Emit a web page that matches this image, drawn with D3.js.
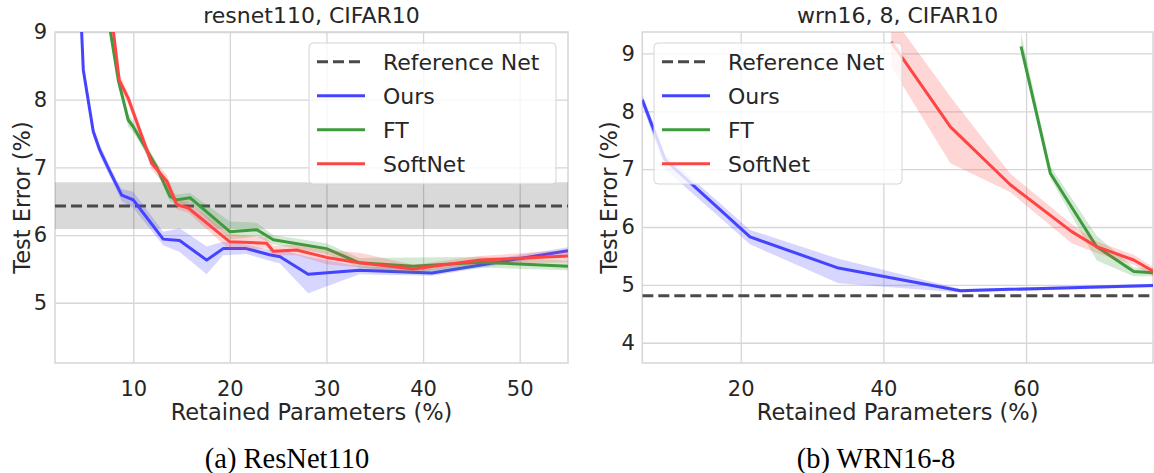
<!DOCTYPE html>
<html>
<head>
<meta charset="utf-8">
<script src="https://cdn.jsdelivr.net/npm/d3@7"></script>
<style>
  body { margin: 0; background: #fff; }
  svg { display: block; }
</style>
</head>
<body>
<svg id="fig" width="1154" height="473"></svg>
<script>
// ---- resnet110, CIFAR10 ----
const resXTicks = [10, 20, 30, 40, 50];
const resYTicks = [5, 6, 7, 8, 9];
const resRef = 6.43, resRefLo = 6.09, resRefHi = 6.78;

const resOursX = [4.55, 4.83, 5.86, 6.55, 7.38, 8.1, 8.8, 10.0, 13.1, 14.8, 17.6, 19.3, 21.7, 24.1, 25.2, 28.1, 33.4, 40.9, 55];
const resOursY = [9.35, 8.44, 7.53, 7.25, 7.00, 6.79, 6.59, 6.52, 5.94, 5.92, 5.63, 5.80, 5.80, 5.71, 5.68, 5.42, 5.48, 5.44, 5.77];
const resOursLo = [9.2, 8.35, 7.45, 7.17, 6.92, 6.72, 6.50, 6.40, 5.85, 5.75, 5.42, 5.70, 5.72, 5.62, 5.58, 5.14, 5.42, 5.40, 5.72];
const resOursHi = [9.5, 8.55, 7.60, 7.33, 7.08, 6.86, 6.68, 6.64, 6.05, 6.10, 5.83, 5.90, 5.86, 5.78, 5.78, 5.68, 5.54, 5.50, 5.82];

const resFtX = [7.3, 8.45, 9.48, 10.0, 12.4, 13.8, 14.5, 15.9, 20.0, 22.8, 24.5, 30.0, 33.4, 39.0, 45.9, 55];
const resFtY = [9.3, 8.29, 7.70, 7.60, 7.01, 6.57, 6.52, 6.55, 6.05, 6.08, 5.93, 5.80, 5.59, 5.54, 5.60, 5.54];
const resFtLo = [9.2, 8.20, 7.60, 7.52, 6.94, 6.50, 6.45, 6.47, 5.93, 5.98, 5.86, 5.72, 5.52, 5.42, 5.52, 5.48];
const resFtHi = [9.4, 8.38, 7.80, 7.68, 7.08, 6.64, 6.60, 6.62, 6.20, 6.18, 6.00, 5.88, 5.66, 5.67, 5.68, 5.62];

const resSoftX = [7.7, 8.55, 9.48, 11.9, 13.5, 14.5, 15.7, 20.0, 23.8, 24.5, 26.9, 30.0, 33.4, 39.0, 45.9, 55];
const resSoftY = [9.3, 8.29, 8.02, 7.06, 6.79, 6.45, 6.40, 5.90, 5.88, 5.76, 5.78, 5.67, 5.59, 5.50, 5.63, 5.69];
const resSoftLo = [9.2, 8.20, 7.93, 6.97, 6.70, 6.38, 6.33, 5.78, 5.80, 5.70, 5.70, 5.57, 5.52, 5.45, 5.57, 5.60];
const resSoftHi = [9.4, 8.38, 8.10, 7.15, 6.88, 6.53, 6.48, 6.02, 5.96, 5.84, 5.86, 5.78, 5.74, 5.56, 5.69, 5.78];

// ---- wrn16, 8, CIFAR10 ----
const wrnXTicks = [20, 40, 60];
const wrnYTicks = [4, 5, 6, 7, 8, 9];
const wrnRef = 4.81;

const wrnOursX = [6.2, 9.4, 21.3, 33.7, 50.8, 77.9];
const wrnOursY = [8.2, 7.16, 5.83, 5.29, 4.90, 4.99];
const wrnOursLo = [8.1, 7.00, 5.70, 5.03, 4.87, 4.96];
const wrnOursHi = [8.3, 7.25, 5.95, 5.45, 4.93, 5.02];

const wrnFtX = [59.3, 63.4, 69.9, 75.1, 77.9];
const wrnFtY = [9.12, 6.93, 5.66, 5.23, 5.21];
const wrnFtLo = [9.00, 6.85, 5.42, 5.15, 5.15];
const wrnFtHi = [9.35, 7.05, 5.85, 5.30, 5.29];

const wrnSoftX = [41.1, 49.4, 57.8, 66.4, 69.9, 75.1, 77.9];
const wrnSoftY = [9.2, 7.73, 6.73, 5.92, 5.66, 5.43, 5.23];
const wrnSoftLo = [8.77, 7.10, 6.60, 5.72, 5.55, 5.35, 5.15];
const wrnSoftHi = [9.66, 8.25, 6.92, 6.05, 5.75, 5.52, 5.30];

const legendLabels = ["Reference Net", "Ours", "FT", "SoftNet"];
const seriesColors = ["#4444ff", "#3d9a3d", "#ff4444"];

const FONT = "'DejaVu Sans', sans-serif";
const INK = "#262626";
const GRID = "#d6d6d6";

const zip = (xs, ys) => xs.map((x, i) => [x, ys[i]]);
const zip3 = (xs, lo, hi) => xs.map((x, i) => [x, lo[i], hi[i]]);

const svg = d3.select("#fig");

function drawPanel(p, id) {
  const x = d3.scaleLinear().domain(p.xDomain).range([p.left, p.right]);
  const y = d3.scaleLinear().domain(p.yDomain).range([p.bottom, p.top]);
  const w = p.right - p.left, h = p.bottom - p.top;

  const g = svg.append("g");
  g.append("clipPath").attr("id", "clip" + id)
    .append("rect").attr("x", p.left).attr("y", p.top).attr("width", w).attr("height", h);

  // grid via axes
  const xAxis = g.append("g").attr("transform", `translate(0,${p.bottom})`)
    .call(d3.axisBottom(x).tickValues(p.xTicks).tickSize(-h).tickPadding(18).tickFormat(d3.format("d")));
  const yAxis = g.append("g").attr("transform", `translate(${p.left},0)`)
    .call(d3.axisLeft(y).tickValues(p.yTicks).tickSize(-w).tickPadding(p.yPad).tickFormat(d3.format("d")));
  [xAxis, yAxis].forEach(a => {
    a.select(".domain").remove();
    a.selectAll(".tick line").attr("stroke", GRID).attr("stroke-width", 1.3);
    a.selectAll(".tick text").attr("fill", INK).style("font-family", FONT).style("font-size", "21px");
  });

  // frame
  g.append("rect").attr("x", p.left).attr("y", p.top).attr("width", w).attr("height", h)
    .attr("fill", "none").attr("stroke", GRID).attr("stroke-width", 1.5);

  const plot = g.append("g").attr("clip-path", `url(#clip${id})`);

  if (p.refBand) {
    plot.append("rect").attr("x", p.left).attr("width", w)
      .attr("y", y(p.refBand[1])).attr("height", y(p.refBand[0]) - y(p.refBand[1]))
      .attr("fill", "#000").attr("fill-opacity", 0.15);
  }
  plot.append("line").attr("x1", p.left).attr("x2", p.right)
    .attr("y1", y(p.ref)).attr("y2", y(p.ref))
    .attr("stroke", "#4a4a4a").attr("stroke-width", 3).attr("stroke-dasharray", "11,5");

  const line = d3.line().x(d => x(d[0])).y(d => y(d[1]));
  const area = d3.area().x(d => x(d[0])).y0(d => y(d[1])).y1(d => y(d[2]));

  p.series.forEach((s, i) => {
    plot.append("path").datum(zip3(s.x, s.lo, s.hi)).attr("d", area)
      .attr("fill", seriesColors[i]).attr("fill-opacity", 0.22);
    plot.append("path").datum(zip(s.x, s.y)).attr("d", line)
      .attr("fill", "none").attr("stroke", seriesColors[i]).attr("stroke-width", 3)
      .attr("stroke-linejoin", "round");
  });

  // legend
  const L = p.legend;
  const lg = g.append("g");
  lg.append("rect").attr("x", L.x).attr("y", L.y).attr("width", L.w).attr("height", L.h)
    .attr("rx", 4).attr("fill", "#fff").attr("fill-opacity", 0.8)
    .attr("stroke", "#d4d4d4").attr("stroke-width", 1);
  legendLabels.forEach((lab, i) => {
    const ly = L.y + 18.7 + i * 34;
    lg.append("line").attr("x1", L.x + 8).attr("x2", L.x + 56).attr("y1", ly).attr("y2", ly)
      .attr("stroke", i === 0 ? "#4a4a4a" : seriesColors[i - 1]).attr("stroke-width", 3)
      .attr("stroke-dasharray", i === 0 ? "11,5" : null);
    lg.append("text").attr("x", L.x + 74).attr("y", ly + 8.3).text(lab)
      .attr("fill", INK).style("font-family", FONT).style("font-size", "22px");
  });

  // titles and labels
  const cx = (p.left + p.right) / 2, cy = (p.top + p.bottom) / 2;
  g.append("text").attr("x", cx).attr("y", 23).attr("text-anchor", "middle").text(p.title)
    .attr("fill", INK).style("font-family", FONT).style("font-size", "22px");
  g.append("text").attr("x", cx).attr("y", 420).attr("text-anchor", "middle").text("Retained Parameters (%)")
    .attr("fill", INK).style("font-family", FONT).style("font-size", "22.5px");
  g.append("text").attr("transform", `translate(${p.yLabelX},${cy}) rotate(-90)`)
    .attr("text-anchor", "middle").text("Test Error (%)")
    .attr("fill", INK).style("font-family", FONT).style("font-size", "22.5px");
  g.append("text").attr("x", p.captionX).attr("y", 468).attr("text-anchor", "middle").text(p.caption)
    .attr("fill", "#000").style("font-family", "'Liberation Serif', serif").style("font-size", "28.5px");
}

drawPanel({
  left: 55, right: 568, top: 32, bottom: 363,
  xDomain: [1.9, 55], yDomain: [4.11, 9],
  xTicks: resXTicks, yTicks: resYTicks, yPad: 8,
  ref: resRef, refBand: [resRefLo, resRefHi],
  series: [
    { x: resOursX, y: resOursY, lo: resOursLo, hi: resOursHi },
    { x: resFtX, y: resFtY, lo: resFtLo, hi: resFtHi },
    { x: resSoftX, y: resSoftY, lo: resSoftLo, hi: resSoftHi }
  ],
  legend: { x: 309, y: 43, w: 247, h: 141 },
  title: "resnet110, CIFAR10", caption: "(a) ResNet110", captionX: 287, yLabelX: 30
}, "a");

drawPanel({
  left: 642.3, right: 1153, top: 32, bottom: 363,
  xDomain: [6.2, 77.8], yDomain: [3.65, 9.37],
  xTicks: wrnXTicks, yTicks: wrnYTicks, yPad: 7.5,
  ref: wrnRef, refBand: null,
  series: [
    { x: wrnOursX, y: wrnOursY, lo: wrnOursLo, hi: wrnOursHi },
    { x: wrnFtX, y: wrnFtY, lo: wrnFtLo, hi: wrnFtHi },
    { x: wrnSoftX, y: wrnSoftY, lo: wrnSoftLo, hi: wrnSoftHi }
  ],
  legend: { x: 654, y: 43, w: 248, h: 141 },
  title: "wrn16, 8, CIFAR10", caption: "(b) WRN16-8", captionX: 876, yLabelX: 617
}, "b");
</script>
</body>
</html>
